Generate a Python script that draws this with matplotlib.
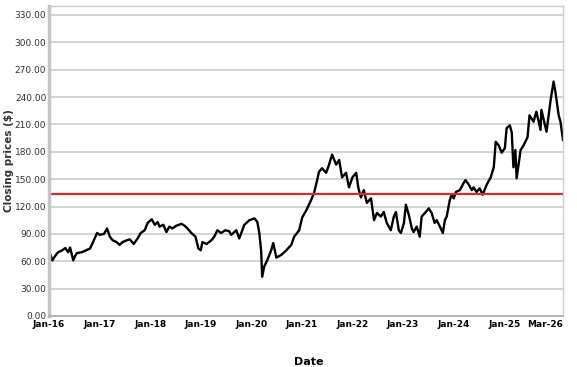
import matplotlib
matplotlib.use("Agg")
import matplotlib.pyplot as plt
import pandas as pd

# closing prices
dates = [
    "2016-01-04", "2016-01-25", "2016-02-15", "2016-03-07", "2016-04-05", "2016-04-27",
    "2016-05-18", "2016-06-01", "2016-06-24", "2016-07-08", "2016-07-21", "2016-08-27",
    "2016-09-25", "2016-10-23", "2016-11-14", "2016-12-13",
    "2017-01-03", "2017-02-01", "2017-02-23", "2017-03-15", "2017-04-05", "2017-05-03",
    "2017-05-25", "2017-06-15", "2017-07-15", "2017-08-06", "2017-09-04", "2017-10-02",
    "2017-10-24", "2017-11-22", "2017-12-13",
    "2018-01-12", "2018-02-03", "2018-02-24", "2018-03-09", "2018-04-06", "2018-04-28",
    "2018-05-19", "2018-06-10", "2018-07-09", "2018-08-15", "2018-09-06", "2018-09-27",
    "2018-10-25", "2018-11-24", "2018-12-15",
    "2019-01-01", "2019-01-13", "2019-02-12", "2019-03-19", "2019-04-09", "2019-05-01",
    "2019-05-28", "2019-06-27", "2019-07-25", "2019-08-09", "2019-09-15", "2019-10-06",
    "2019-11-12", "2019-12-18",
    "2020-01-24", "2020-02-14", "2020-02-28", "2020-03-12", "2020-03-20", "2020-04-03",
    "2020-04-25", "2020-05-24", "2020-06-08", "2020-06-30", "2020-08-05", "2020-09-10",
    "2020-10-16", "2020-11-06", "2020-12-12",
    "2021-01-03", "2021-02-02", "2021-03-08", "2021-03-30", "2021-04-21", "2021-05-04",
    "2021-05-26", "2021-06-25", "2021-07-16", "2021-08-07", "2021-09-05", "2021-09-27",
    "2021-10-18", "2021-11-16", "2021-12-07",
    "2022-01-01", "2022-01-28", "2022-02-12", "2022-03-03", "2022-03-24", "2022-04-15",
    "2022-05-15", "2022-06-06", "2022-06-27", "2022-07-25", "2022-08-15", "2022-09-06",
    "2022-10-05", "2022-10-27", "2022-11-11", "2022-12-02", "2022-12-17",
    "2023-01-08", "2023-01-22", "2023-02-12", "2023-03-06", "2023-03-19", "2023-04-10",
    "2023-05-02", "2023-05-16", "2023-06-15", "2023-07-06", "2023-07-27", "2023-08-18",
    "2023-09-02", "2023-10-01", "2023-10-16", "2023-10-31", "2023-11-13", "2023-12-05",
    "2023-12-19",
    "2024-01-03", "2024-01-18", "2024-02-16", "2024-03-15", "2024-03-28", "2024-04-20",
    "2024-05-12", "2024-05-25", "2024-06-16", "2024-07-08", "2024-07-30", "2024-08-28",
    "2024-09-26", "2024-10-18", "2024-11-01", "2024-11-23", "2024-12-14",
    "2025-01-06", "2025-01-19", "2025-02-11", "2025-02-25", "2025-03-09", "2025-03-23",
    "2025-04-01", "2025-04-30", "2025-05-21", "2025-06-19", "2025-07-03", "2025-08-01",
    "2025-08-22", "2025-09-21", "2025-09-27", "2025-11-03", "2025-12-03", "2025-12-24",
    "2026-01-07", "2026-01-30", "2026-02-12", "2026-03-02",
]
prices = [
    70, 61, 66, 70, 72, 74.5,
    70, 75, 61, 66, 69, 70,
    72, 74, 81, 91,
    89, 90, 96, 87, 83, 81,
    78, 81, 83, 84, 79, 85,
    91, 94, 102,
    106, 100, 103, 98, 100, 92,
    98, 96, 99, 101, 99, 96,
    91, 87, 74,
    72, 81, 79, 83, 87, 94,
    91, 94, 93, 89, 94, 85,
    100, 105,
    107, 103, 91, 72, 43, 54,
    61, 72, 80, 64, 67, 72,
    78, 87, 94,
    108, 116, 127, 135, 149, 158,
    162, 157, 166, 177, 166, 171,
    152, 157, 141,
    152, 157, 141, 130, 138, 124,
    129, 105, 113, 109, 114, 102,
    94, 109, 114, 94, 91,
    102, 122, 111, 96, 92, 98,
    87, 109, 114, 118, 113, 102,
    105, 96, 91, 105, 109, 127,
    133,
    129, 136, 138, 146, 149, 144,
    138, 141, 136, 140, 133, 144,
    152, 163, 191, 187, 179,
    184, 206, 209, 201, 163, 182,
    151, 182, 187, 196, 220, 213,
    224, 204, 226, 202, 237, 257,
    245, 220, 213, 193,
]
avg_price = 133.5

tick_dates = ["2016-01-01", "2017-01-01", "2018-01-01", "2019-01-01", "2020-01-01",
              "2021-01-01", "2022-01-01", "2023-01-01", "2024-01-01", "2025-01-01",
              "2026-03-02"]
tick_labels = ["Jan-16", "Jan-17", "Jan-18", "Jan-19", "Jan-20", "Jan-21",
               "Jan-22", "Jan-23", "Jan-24", "Jan-25", "Mar-26"]
y_ticks = list(range(0, 331, 30))

x = pd.to_datetime(dates)

fig = plt.figure(figsize=(5.77, 3.67), dpi=100)
ax = fig.add_axes([0.085, 0.139, 0.8907, 0.845])

ax.grid(axis="y", color="#cccccc", linewidth=1.2)
ax.set_axisbelow(True)
ax.plot(x, prices, color="black", linewidth=1.7)
ax.axhline(avg_price, color="#e0282a", linewidth=1.6)

ax.set_xlim(pd.Timestamp("2016-01-01"), pd.Timestamp("2026-03-02"))
ax.set_ylim(0, 340)
ax.set_yticks(y_ticks)
ax.set_yticklabels(["%.2f" % v for v in y_ticks], fontsize=6.5, color="#333333")
ax.set_xticks(pd.to_datetime(tick_dates))
ax.set_xticklabels(tick_labels, fontsize=6.5, fontweight="bold")
ax.get_xticklabels()[-1].set_horizontalalignment("right")
ax.tick_params(axis="y", length=0, pad=2)
ax.tick_params(axis="x", length=0, pad=3)

for side in ["top", "right"]:
    ax.spines[side].set_color("#cccccc")
    ax.spines[side].set_linewidth(1.0)
ax.spines["left"].set_color("#c4c4c4")
ax.spines["left"].set_linewidth(2.5)
ax.spines["bottom"].set_color("#aaaaaa")
ax.spines["bottom"].set_linewidth(1.2)

ax.set_ylabel("Closing prices ($)", fontsize=7.5, fontweight="bold", color="#333333")
ax.yaxis.set_label_coords(-0.068, 0.5)
ax.set_xlabel("Date", fontsize=8, fontweight="bold")
ax.xaxis.set_label_coords(0.505, -0.132)

fig.savefig("out.png", dpi=100)
